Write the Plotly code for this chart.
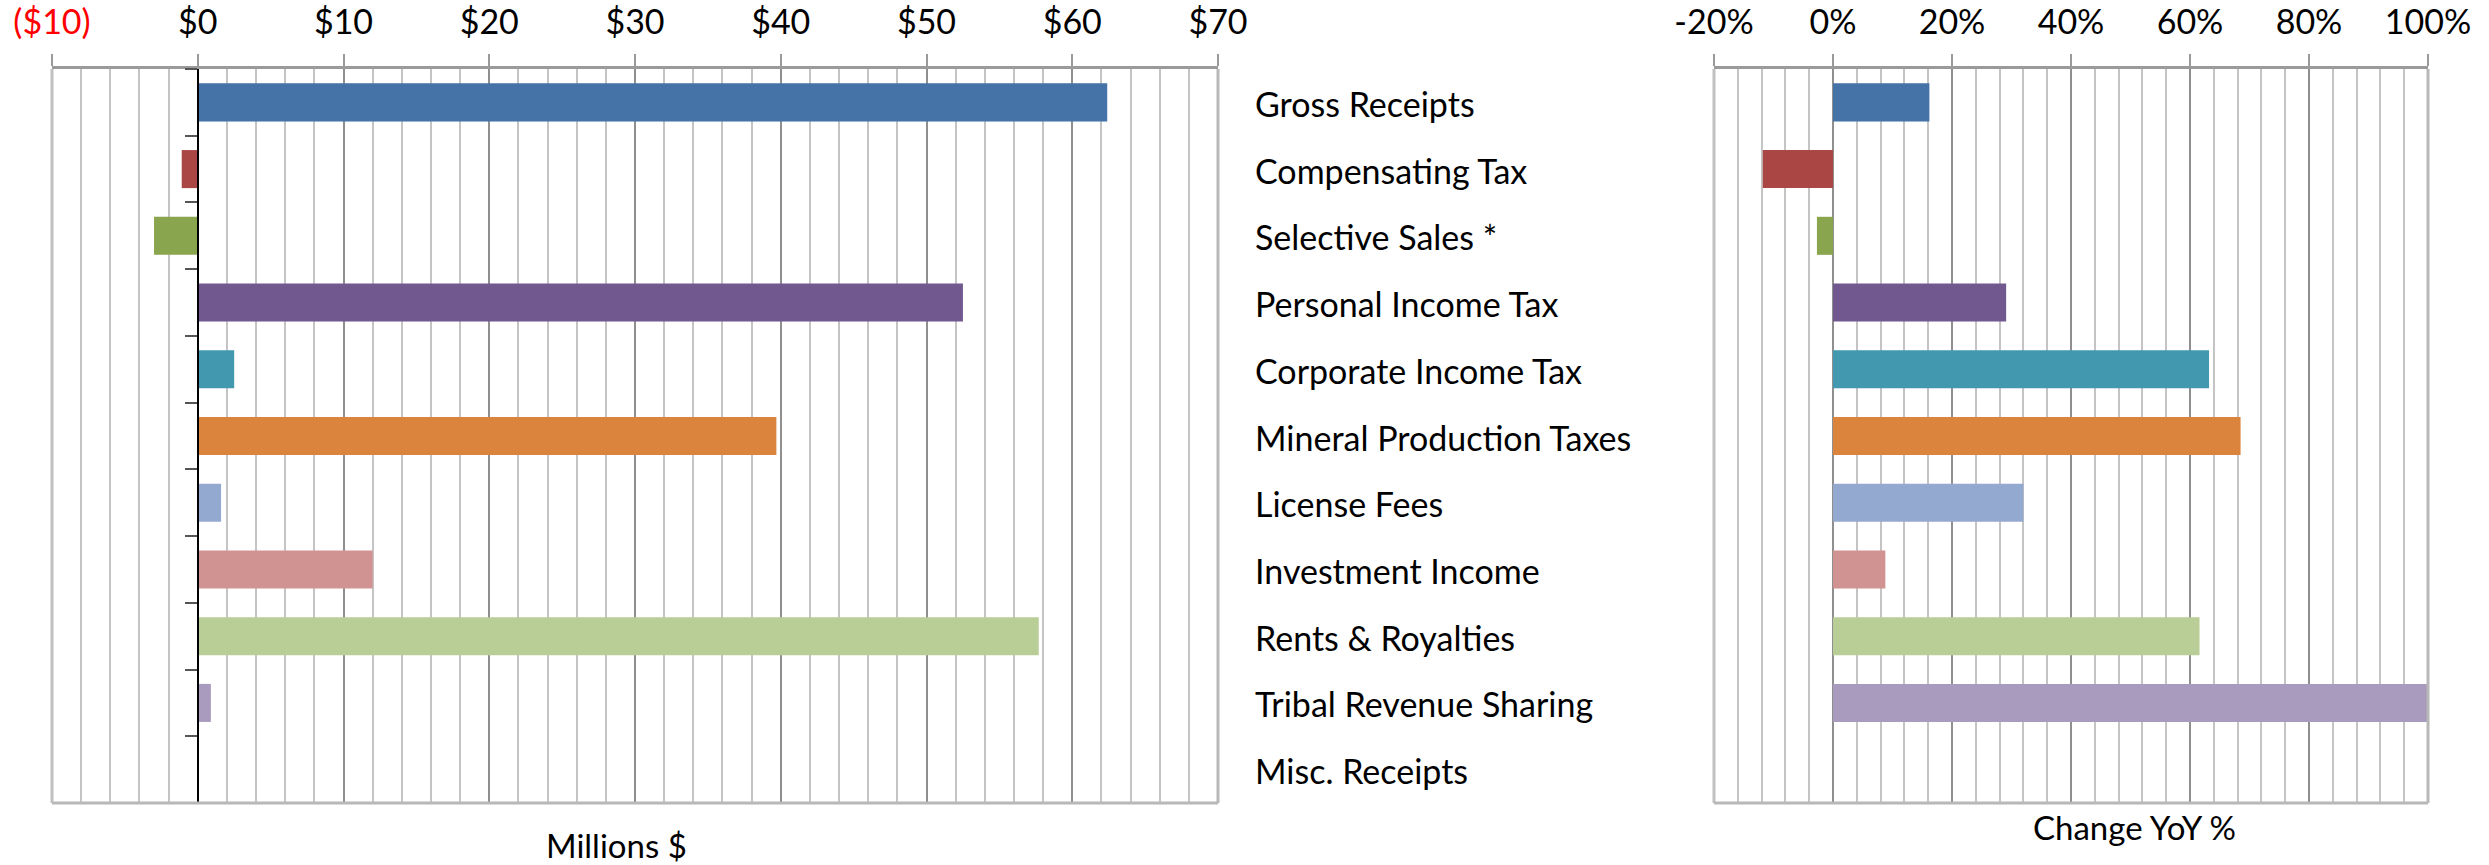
import plotly.graph_objects as go

# ---------------- data ----------------
categories = ["Gross Receipts", "Compensating Tax", "Selective Sales *",
              "Personal Income Tax", "Corporate Income Tax",
              "Mineral Production Taxes", "License Fees", "Investment Income",
              "Rents & Royalties", "Tribal Revenue Sharing", "Misc. Receipts"]
millions = [62.4, -1.1, -3.0, 52.5, 2.5, 39.7, 1.6, 12.0, 57.7, 0.9, 0.0]
yoy_pct = [16.2, -11.8, -2.7, 29.1, 63.2, 68.5, 32.0, 8.8, 61.6, 100.0, 0.0]
bar_colors = ["#4572A7", "#AA4643", "#89A54E", "#71588F", "#4198AF",
              "#DB843D", "#93A9CF", "#D19392", "#B9CD96", "#A99BBD", "#8EA5CB"]

money_ticks = [-10, 0, 10, 20, 30, 40, 50, 60, 70]
money_labels = ["<span style='color:#FF0000'>($10)</span>", "$0", "$10", "$20",
                "$30", "$40", "$50", "$60", "$70"]
pct_ticks = [-20, 0, 20, 40, 60, 80, 100]
pct_labels = ["-20%", "0%", "20%", "40%", "60%", "80%", "100%"]

left_title = "Millions $"
right_title = "Change YoY %"

# ---------------- layout geometry ----------------
W, H = 2489, 865
left_dom = [52 / W, 1218 / W]
right_dom = [1714 / W, 2428 / W]
y_dom = [1 - 803 / H, 1 - 69 / H]
zero_pos = left_dom[0] + (0 - (-10)) / 80 * (left_dom[1] - left_dom[0])

FONT = "Lato"
TICK_FONT = dict(family=FONT, size=34, color="#000000")

fig = go.Figure()
fig.add_trace(go.Bar(
    x=millions, y=categories, orientation="h", xaxis="x", yaxis="y",
    marker=dict(color=bar_colors, line=dict(width=0)),
    width=0.57, showlegend=False, hoverinfo="x+y"))
fig.add_trace(go.Bar(
    x=yoy_pct, y=categories, orientation="h", xaxis="x2", yaxis="y2",
    marker=dict(color=bar_colors, line=dict(width=0)),
    width=0.57, showlegend=False, hoverinfo="x+y"))

common_x = dict(
    side="top", showline=True, linecolor="#9a9a9a", linewidth=3,
    ticks="outside", ticklen=12, tickwidth=2, tickcolor="#9a9a9a",
    showgrid=True, gridcolor="#8f8f8f", gridwidth=1.5,
    zeroline=False, tickfont=TICK_FONT, fixedrange=True,
    automargin=False, ticklabelstandoff=6,
)

fig.update_layout(
    width=W, height=H,
    margin=dict(l=0, r=0, t=0, b=0, pad=0),
    paper_bgcolor="white", plot_bgcolor="white",
    font=dict(family=FONT, color="#000000"),
    xaxis=dict(common_x, domain=left_dom, range=[-10, 70], anchor="y",
               tickvals=money_ticks, ticktext=money_labels,
               minor=dict(dtick=2, tick0=0, showgrid=True, gridcolor="#c4c4c4",
                          gridwidth=1.5, ticks="")),
    yaxis=dict(domain=y_dom, type="category", categoryorder="array",
               categoryarray=categories, range=[10.5, -0.5],
               anchor="free", position=zero_pos, automargin=False,
               showline=True, linecolor="#000000", linewidth=1.5,
               ticks="outside", tickson="boundaries", ticklen=12,
               tickwidth=2, tickcolor="#555555",
               showticklabels=False, showgrid=False, zeroline=False,
               fixedrange=True),
    xaxis2=dict(common_x, domain=right_dom, range=[-20, 100], anchor="y2",
                tickvals=pct_ticks, ticktext=pct_labels,
                minor=dict(dtick=4, tick0=0, showgrid=True, gridcolor="#c4c4c4",
                           gridwidth=1.5, ticks="")),
    yaxis2=dict(domain=y_dom, type="category", categoryorder="array",
                categoryarray=categories, range=[10.5, -0.5], anchor="x2",
                automargin=False,
                showline=False, ticks="", showticklabels=False,
                showgrid=False, zeroline=False, fixedrange=True),
    bargap=0.43,
)

# frames around both plot areas (left, bottom, right)
for xd, yd in (("x domain", "y domain"), ("x2 domain", "y2 domain")):
    fig.add_shape(type="line", xref=xd, yref=yd, x0=0, x1=0, y0=0, y1=1,
                  line=dict(color="#c0c0c0", width=3), layer="above")
    fig.add_shape(type="line", xref=xd, yref=yd, x0=1, x1=1, y0=0, y1=1,
                  line=dict(color="#b8b8b8", width=3), layer="above")
    fig.add_shape(type="line", xref=xd, yref=yd, x0=0, x1=1, y0=0, y1=0,
                  line=dict(color="#b8b8b8", width=3), layer="above")

# category labels between the two panels
for cat in categories:
    fig.add_annotation(x=1253 / W, xref="paper", y=cat, yref="y",
                       text=cat, showarrow=False, xanchor="left",
                       yanchor="middle", yshift=-1,
                       font=dict(family=FONT, size=34, color="#000000"))

# axis titles under each panel
fig.add_annotation(x=616 / W, y=1 - 845 / H, xref="paper", yref="paper",
                   text=left_title, showarrow=False, xanchor="center",
                   yanchor="middle", font=dict(family=FONT, size=33, color="#000000"))
fig.add_annotation(x=2134 / W, y=1 - 827 / H, xref="paper", yref="paper",
                   text=right_title, showarrow=False, xanchor="center",
                   yanchor="middle", font=dict(family=FONT, size=33, color="#000000"))

fig.write_html("out.html", config={"displayModeBar": False},
               post_script="document.body.style.margin='0px';"
                           "document.body.style.overflow='hidden';")
